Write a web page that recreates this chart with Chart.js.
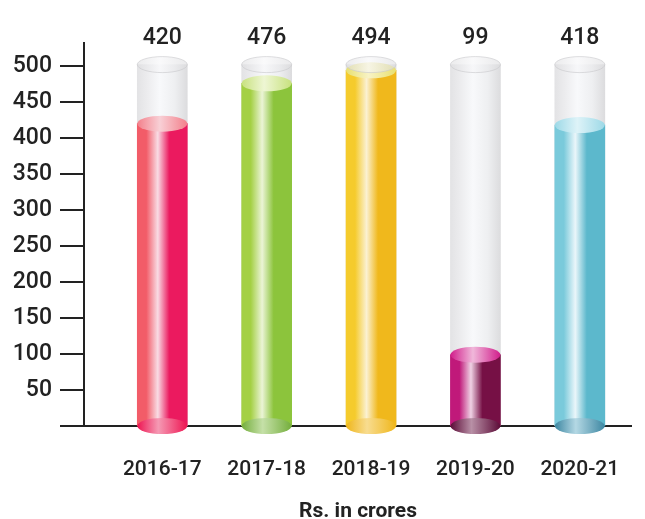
<!DOCTYPE html>
<html lang="en">
<head>
    <meta charset="UTF-8">
    <title>Rs. in crores</title>
    <script src="https://cdn.jsdelivr.net/npm/chart.js@4"></script>
    <style>
        html, body { margin: 0; padding: 0; background: #ffffff; }
        #wrap { width: 645px; height: 519px; }
    </style>
</head>
<body>
    <div id="wrap"><canvas id="tubes"></canvas></div>

    <script>
        // chart data
        const years = ['2016-17', '2017-18', '2018-19', '2019-20', '2020-21'];
        const amounts = [420, 476, 494, 99, 418];
        const tubeCapacity = [502, 502, 502, 502, 502];
        const yTicks = [50, 100, 150, 200, 250, 300, 350, 400, 450, 500];

        // liquid colours per tube
        const liquid = [
            { left: '#f25c68', hi: '#f9dce4', right: '#eb1a5f', top: '#f3808b', topHi: '#f8d0d6', bottom: '#ee1552', bottomHi: '#f59ab4' },
            { left: '#a4d044', hi: '#ebf4d6', right: '#8cc43c', top: '#c8e17e', topHi: '#eef6d4', bottom: '#74ae3c', bottomHi: '#c5e0a8' },
            { left: '#f5cb2c', hi: '#fbf1d2', right: '#f0b81c', top: '#e8e070', topHi: '#f8f3c6', bottom: '#efb61a', bottomHi: '#f8dc90' },
            { left: '#c0197a', hi: '#efd2e4', right: '#761045', top: '#d11d8b', topHi: '#f0b8da', bottom: '#5c0b37', bottomHi: '#b890a6' },
            { left: '#7acadb', hi: '#eaf6fa', right: '#5cb8cc', top: '#9dd9e7', topHi: '#def3f8', bottom: '#3d87a2', bottomHi: '#b4d8e4' }
        ];

        const ink = '#222222';
        const tickFont = { family: 'Roboto', size: 23, weight: '500' };
        const yearFont = { family: 'Roboto', size: 21, weight: '500' };
        const rimRy = 8;

        function hGradient(ctx, cx, w, stops) {
            const g = ctx.createLinearGradient(cx - w / 2, 0, cx + w / 2, 0);
            stops.forEach(s => g.addColorStop(s[0], s[1]));
            return g;
        }

        function liquidBody(context) {
            const chart = context.chart;
            if (!chart.chartArea || context.dataIndex === undefined) return liquid[0].left;
            const c = liquid[context.dataIndex];
            const cx = chart.scales.x.getPixelForValue(context.dataIndex);
            return hGradient(chart.ctx, cx, 50, [[0, c.left], [0.18, c.left], [0.41, c.hi], [0.64, c.right], [1, c.right]]);
        }

        function glassBody(context) {
            const chart = context.chart;
            if (!chart.chartArea || context.dataIndex === undefined) return '#eeeeef';
            const cx = chart.scales.x.getPixelForValue(context.dataIndex);
            return hGradient(chart.ctx, cx, 50, [[0, '#e3e3e5'], [0.2, '#ececee'], [0.45, '#f8f9fb'], [0.75, '#eeeff1'], [1, '#dcdcde']]);
        }

        function ellipse(ctx, cx, cy, rx, ry, fill) {
            ctx.beginPath();
            ctx.ellipse(cx, cy, rx, ry, 0, 0, Math.PI * 2);
            ctx.fillStyle = fill;
            ctx.fill();
        }

        // x axis line, drawn under the tubes
        const baseLine = {
            id: 'baseLine',
            beforeDatasetsDraw(chart) {
                const { ctx, chartArea } = chart;
                ctx.save();
                ctx.strokeStyle = ink;
                ctx.lineWidth = 2;
                ctx.beginPath();
                ctx.moveTo(chartArea.left - 24, chartArea.bottom);
                ctx.lineTo(chartArea.right, chartArea.bottom);
                ctx.stroke();
                ctx.restore();
            }
        };

        // rims of the tubes and the value labels
        const tubeRims = {
            id: 'tubeRims',
            afterDatasetsDraw(chart) {
                const ctx = chart.ctx;
                const fill = chart.getDatasetMeta(0).data;
                const glass = chart.getDatasetMeta(1).data;
                ctx.save();
                fill.forEach((bar, i) => {
                    const c = liquid[i];
                    const rx = bar.width / 2;
                    ellipse(ctx, bar.x, bar.base, rx, rimRy,
                        hGradient(ctx, bar.x, bar.width, [[0, c.bottom], [0.42, c.bottomHi], [1, c.bottom]]));
                    ellipse(ctx, bar.x, bar.y, rx, rimRy,
                        hGradient(ctx, bar.x, bar.width, [[0, c.top], [0.45, c.topHi], [1, c.top]]));

                    const g = glass[i];
                    ctx.globalAlpha = 0.6;
                    ellipse(ctx, g.x, g.y, rx, rimRy,
                        hGradient(ctx, g.x, g.width, [[0, '#dedee0'], [0.45, '#f6f6f8'], [1, '#dcdcde']]));
                    ctx.globalAlpha = 1;
                    ctx.strokeStyle = 'rgba(200,200,204,0.6)';
                    ctx.lineWidth = 1;
                    ctx.stroke();

                    ctx.fillStyle = ink;
                    ctx.font = '500 23px Roboto';
                    ctx.textAlign = 'center';
                    ctx.textBaseline = 'middle';
                    ctx.fillText(String(amounts[i]), g.x, g.y - 26);
                });
                ctx.restore();
            }
        };

        new Chart(document.getElementById('tubes'), {
            type: 'bar',
            data: {
                datasets: [
                    {
                        data: amounts.map((v, i) => ({ x: i, y: v })),
                        backgroundColor: liquidBody,
                        borderWidth: 0,
                        barThickness: 50,
                        grouped: false
                    },
                    {
                        data: tubeCapacity.map((v, i) => ({ x: i, y: v })),
                        backgroundColor: glassBody,
                        borderWidth: 0,
                        barThickness: 50,
                        grouped: false
                    }
                ]
            },
            plugins: [baseLine, tubeRims],
            options: {
                responsive: true,
                maintainAspectRatio: false,
                animation: false,
                layout: { padding: { top: 43, right: 13, left: 0, bottom: 0 } },
                plugins: {
                    legend: { display: false },
                    tooltip: { enabled: false }
                },
                scales: {
                    x: {
                        type: 'linear',
                        offset: false,
                        min: -0.75,
                        max: 4.5,
                        afterBuildTicks: s => { s.ticks = years.map((_, i) => ({ value: i })); },
                        afterFit: s => { s.height = 93; },
                        grid: { display: false },
                        border: { display: false },
                        ticks: {
                            callback: v => years[v],
                            font: yearFont,
                            color: ink,
                            padding: 23,
                            autoSkip: false,
                            maxRotation: 0
                        },
                        title: {
                            display: true,
                            text: 'Rs. in crores',
                            color: ink,
                            font: { family: 'Roboto', size: 21, weight: 'bold', lineHeight: 0.7 },
                            padding: 0
                        }
                    },
                    y: {
                        min: 0,
                        max: 532,
                        afterBuildTicks: s => { s.ticks = yTicks.map(v => ({ value: v })); },
                        afterFit: s => { s.width = 84; },
                        grid: { drawOnChartArea: false, drawTicks: true, tickLength: 24, color: ink, lineWidth: 2 },
                        border: { display: true, color: ink, width: 2 },
                        ticks: { font: tickFont, color: ink, padding: 8 }
                    }
                }
            }
        });
    </script>
</body>
</html>
